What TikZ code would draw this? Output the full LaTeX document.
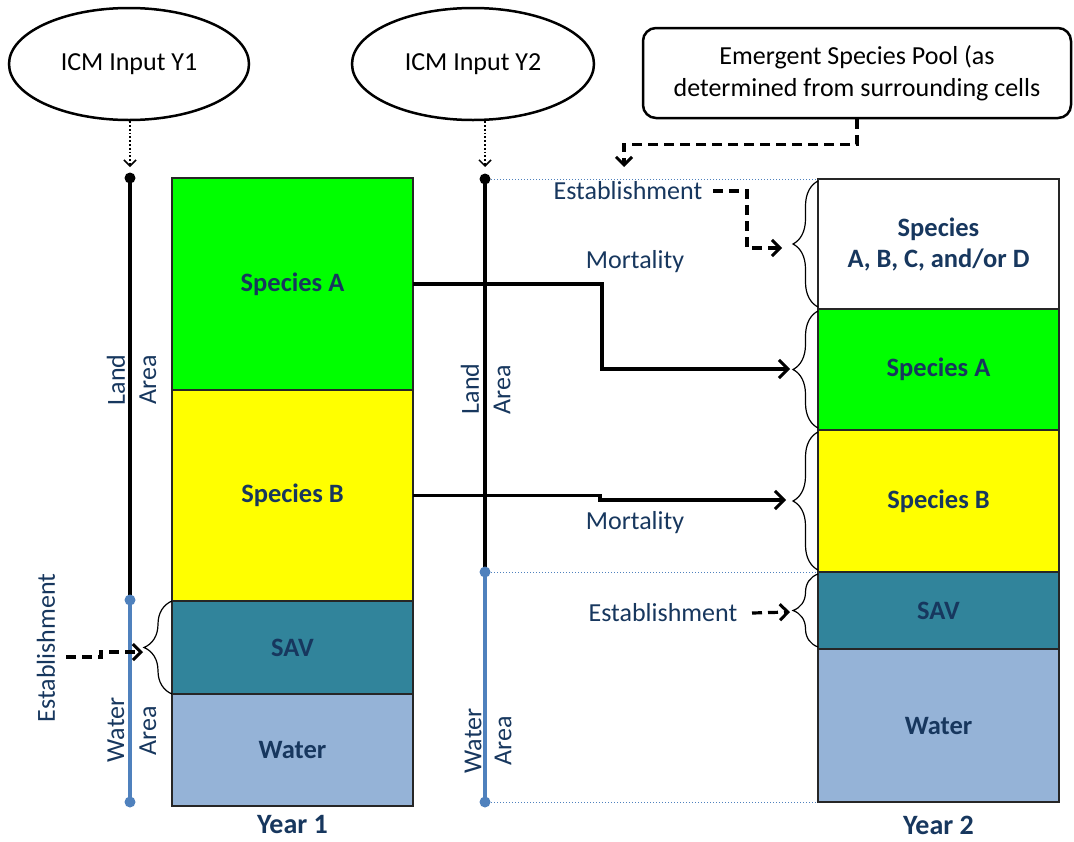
\documentclass[tikz,border=0pt]{standalone}
\usepackage{fontspec}
\setmainfont{Carlito}
\usetikzlibrary{arrows.meta,decorations.pathreplacing,shapes.geometric}
\definecolor{navy}{HTML}{17375E}
\definecolor{savc}{HTML}{31849B}
\definecolor{watc}{HTML}{95B3D7}
\definecolor{blc}{HTML}{4F81BD}
\definecolor{greenc}{HTML}{00FF00}
\definecolor{yellowc}{HTML}{FFFF00}
\begin{document}
\begin{tikzpicture}[x=1pt,y=-1pt,
  cell/.style={draw=black!85, line width=1.8pt, minimum width=241pt, inner sep=0pt, outer sep=0pt,
    text=navy, font=\fontsize{26.5}{31}\selectfont\bfseries, align=center},
  txt/.style={text=navy, font=\fontsize{26}{30}\selectfont, inner sep=0pt},
  yearlbl/.style={text=navy, font=\fontsize{28}{30}\selectfont\bfseries, inner sep=0pt},
  oval/.style={draw, ellipse, line width=2.5pt, inner sep=0pt, font=\fontsize{26}{30}\selectfont},
  dotarr/.style={line width=1.8pt, dotted, -{Straight Barb[length=6pt,width=12pt,line width=1.5pt]}},
  dsharr/.style={line width=3.2pt, dash pattern=on 10pt off 6pt, -{Straight Barb[length=8pt,width=16pt,line width=3pt]}},
  mortarr/.style={line width=3.2pt, -{Straight Barb[length=9pt,width=18pt,line width=3pt]}},
  brc/.style={decorate, decoration={brace, amplitude=#1}, line width=1.2pt},
  landline/.style={line width=3.2pt, black},
  waterline/.style={line width=3.2pt, blc},
  guide/.style={blc, line width=1pt, dotted},
  dotb/.style={circle, fill=black, inner sep=0pt, minimum size=11pt},
  dotw/.style={circle, fill=blc, inner sep=0pt, minimum size=11pt}
]
\useasboundingbox (0,0) rectangle (1074,841);

% ovals and callout
\node[oval, minimum width=240pt, minimum height=112pt] (e1) at (129,64) {ICM Input Y1};
\node[oval, minimum width=242pt, minimum height=112pt] (e2) at (473,64) {ICM Input Y2};
\node[draw, rounded corners=13pt, line width=2.5pt, minimum width=428pt, minimum height=90pt,
      align=center, font=\fontsize{26}{32}\selectfont] (pool) at (857,73)
      {Emergent Species Pool (as\\determined from surrounding cells};

% Year 1 column
\node[cell, fill=greenc, minimum height=212pt] (a1) at (292.5,284) {Species A};
\node[cell, fill=yellowc, minimum height=211pt] (b1) at (292.5,495.5) {Species B};
\node[cell, fill=savc, minimum height=93pt] (s1) at (292.5,647.5) {SAV};
\node[cell, fill=watc, minimum height=112pt] (w1) at (292.5,750) {Water};
\node[yearlbl] (y1) at (292.5,825) {Year 1};

% Year 2 column
\node[cell, fill=white, minimum height=130pt] (n2) at (938.5,244) {Species\\A, B, C, and/or D};
\node[cell, fill=greenc, minimum height=121pt] (a2) at (938.5,369.5) {Species A};
\node[cell, fill=yellowc, minimum height=142pt] (b2) at (938.5,501) {Species B};
\node[cell, fill=savc, minimum height=77pt] (s2) at (938.5,610.5) {SAV};
\node[cell, fill=watc, minimum height=153pt] (w2) at (938.5,725.5) {Water};
\node[yearlbl] (y2) at (938.5,825) {Year 2};

% Year 1 vertical scale
\coordinate (p1t) at (130,178);
\coordinate (p1m) at (130,600);
\coordinate (p1b) at (130,802);
\draw[landline] (p1t) -- (p1m);
\draw[waterline] (p1m) -- (p1b);
\node[dotb] (d1t) at (p1t) {};
\node[dotw] (d1m) at (p1m) {};
\node[dotw] (d1b) at (p1b) {};
\coordinate (i1) at (130,167);
\draw[dotarr] (e1.south -| i1) -- (i1);

% Year 2 vertical scale
\coordinate (p2t) at (485,179);
\coordinate (p2m) at (485,572);
\coordinate (p2b) at (485,802);
\draw[guide] (p2t) -- (n2.north west);
\draw[guide] (p2m) -- (s2.north west);
\draw[guide] (p2b) -- (w2.south west);
\draw[landline] (p2t) -- (p2m);
\draw[waterline] (p2m) -- (p2b);
\node[dotb] (d2t) at (p2t) {};
\node[dotw] (d2m) at (p2m) {};
\node[dotw] (d2b) at (p2b) {};
\coordinate (i2) at (485,167);
\draw[dotarr] (e2.south -| i2) -- (i2);

% Land / Water / Area labels
\node[txt, rotate=90] (l1) at (116,380) {Land};
\node[txt, rotate=90] (la1) at (148,380) {Area};
\node[txt, rotate=90] (wt1) at (116,730) {Water};
\node[txt, rotate=90] (wa1) at (148,731) {Area};
\node[txt, rotate=90] (l2) at (470,389) {Land};
\node[txt, rotate=90] (la2) at (502,390) {Area};
\node[txt, rotate=90] (wt2) at (473,741) {Water};
\node[txt, rotate=90] (wa2) at (503,741) {Area};

% braces
\draw[brc=28pt] (s1.south west) -- (s1.north west);
\draw[brc=25pt] (818,307) -- (818,181);
\draw[brc=25pt] (818,428) -- (818,311);
\draw[brc=25pt] (818,570) -- (818,432);
\draw[brc=25pt] (818,647) -- (818,574);
\coordinate (t1s) at (143,652);
\coordinate (t2n) at (782,248);
\coordinate (t2a) at (790,369);
\coordinate (t2b) at (786,500);
\coordinate (t2s) at (790,612);

% mortality
\draw[mortarr] (a1.east) -- (602,284) |- (t2a);
\draw[mortarr] (b1.east) -- (600,495.5) -- (600,500) -- (t2b);
\node[txt] (m1) at (635,262) {Mortality};
\node[txt] (m2) at (635,523) {Mortality};

% establishment
\node[txt] (est2) at (628,191) {Establishment};
\draw[dsharr] (713,191) -- (747,191) -- (747,248) -- (t2n);
\node[txt] (est3) at (663,613) {Establishment};
\draw[dsharr] (752,613) -- (t2s);
\node[txt, rotate=90] (est1) at (46,648) {Establishment};
\coordinate (es1) at (66,657);
\draw[dsharr] (es1) -- (101,657) -- (101,652) -- (t1s);

% pool arrow
\coordinate (pe) at (624,167);
\draw[dsharr] (pool.south) -- ++(0,25) -| (pe);
\end{tikzpicture}
\end{document}
